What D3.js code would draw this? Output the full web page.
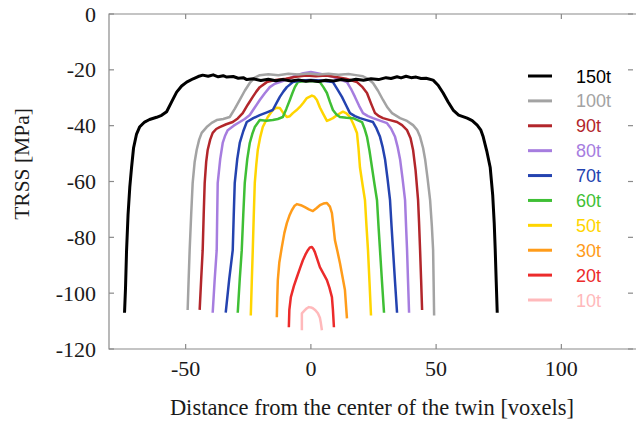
<!DOCTYPE html>
<html>
<head>
<meta charset="utf-8">
<script src="https://cdn.jsdelivr.net/npm/d3@7/dist/d3.min.js"></script>
<style>
  html, body { margin: 0; padding: 0; background: #fff; }
  svg { display: block; }
</style>
</head>
<body>
<svg id="chart" width="636" height="423"></svg>
<script>
// Resolved twin shear stress profiles, one per loading step: [distance (voxels), TRSS (MPa)]
const t150 = [[-74.4,-107],[-74.0,-98],[-73.6,-85],[-73.0,-72],[-72.3,-62],[-71.6,-55],[-70.8,-48],[-69.6,-43],[-68.4,-40.5],[-66.4,-38.7],[-64.4,-37.8],[-61.6,-37],[-59.6,-36.3],[-57.6,-35],[-55.6,-31.5],[-53.6,-28],[-51.6,-25.8],[-49.6,-24.4],[-47,-23.2],[-45,-22.4],[-43.2,-21.9],[-41,-22.3],[-39,-21.8],[-37,-22.5],[-35,-22.1],[-33.6,-22.6],[-31,-22.4],[-29,-23.0],[-27,-22.8],[-25.6,-23.5],[-23,-23.2],[-20,-23.8],[-17,-23.4],[-14,-23.9],[-11,-23.5],[-8,-24],[-5,-23.6],[-2,-24.1],[0,-23.8],[3,-24.2],[6,-23.7],[9,-24],[12,-23.5],[15,-23.9],[18,-23.4],[21,-23.7],[24,-23.2],[27,-23.5],[30,-22.8],[32,-23.1],[34.4,-22.5],[36,-22.9],[38,-22.3],[40,-22.8],[42,-22.6],[44,-23.1],[46,-23],[48.8,-23.7],[50.8,-25.5],[52.8,-28.3],[54.8,-31.5],[56.8,-34.4],[59,-36.2],[62.4,-37.3],[64.4,-38.2],[66.4,-39.8],[67.8,-41.5],[68.8,-44],[70.2,-49],[71.6,-55],[72.6,-65],[73.2,-75],[73.6,-84.6],[74,-96],[74.4,-107]];
const t100 = [[-49.2,-106],[-48.8,-95],[-48.4,-84.6],[-47.8,-72],[-47.2,-60.6],[-46.4,-53],[-45.6,-48.7],[-44.6,-45],[-43.6,-42.6],[-41.6,-40.5],[-39.6,-39],[-37.6,-38],[-35,-37.6],[-32.4,-36.9],[-30.4,-34],[-28.4,-30.8],[-26.4,-27.5],[-24.4,-24.7],[-22.4,-22.8],[-20.4,-21.9],[-17,-21.6],[-13,-21.9],[-9,-21.4],[-5,-21.7],[-1,-21.3],[3,-21.7],[7,-21.4],[11,-21.8],[15,-21.5],[18,-21.9],[20.8,-22.3],[22.8,-23.2],[24.8,-24.7],[26.8,-27.5],[28.8,-30.8],[30.6,-33.5],[32.4,-35.5],[35.6,-37.3],[38.4,-38.3],[40.8,-39.8],[42.4,-41.5],[43.6,-44],[44.8,-48],[45.6,-52],[46.6,-59],[47.6,-66.7],[48.3,-76],[48.8,-84.6],[49,-96],[49.2,-108]];
const t90 = [[-44.4,-106],[-43.8,-95],[-43.2,-84.6],[-42.8,-72],[-42.4,-60.6],[-41.8,-53],[-41.2,-48.7],[-40.2,-45],[-39.2,-42.6],[-37.8,-41.2],[-36.4,-40.5],[-33.8,-39.5],[-31.2,-38.7],[-29.2,-37.4],[-27.2,-35.5],[-25.2,-32.5],[-23.2,-29.7],[-21.8,-27.8],[-20.4,-26.2],[-17.6,-24.4],[-14,-23.6],[-10,-23.2],[-6,-22.5],[-2,-22],[2,-22.3],[6,-22],[10,-22.6],[14,-23.2],[16.4,-23.8],[18.4,-24.4],[20.4,-26],[22.4,-28.3],[24,-32],[25.6,-35.5],[27.2,-36.6],[28.8,-37.3],[31.6,-38],[34.4,-38.7],[36.4,-39.8],[38.4,-41.6],[39.8,-44.5],[40.8,-48.7],[41.8,-56],[42.8,-66.7],[43.2,-75],[43.6,-84.6],[44,-95],[44.4,-106]];
const t80 = [[-39.2,-107],[-38.4,-95],[-37.6,-84.6],[-37.4,-72],[-37.2,-60.6],[-36.2,-52],[-35.2,-46.2],[-34.2,-43.5],[-33.2,-41.6],[-30.8,-40],[-28.4,-38.7],[-26.4,-37.6],[-24.4,-36.2],[-22.4,-33.5],[-20.4,-30.8],[-18.4,-28.4],[-16.4,-26.2],[-14.4,-25],[-12.4,-24.4],[-9,-23.3],[-6,-22],[-3,-21.2],[0,-20.8],[3,-21.3],[6,-21.8],[9,-22.6],[12,-23.6],[14.4,-24.4],[16,-26.8],[17.6,-29.7],[19.2,-32.8],[20.8,-35.5],[22.8,-36.6],[24.8,-37.3],[27.6,-38.2],[30.4,-39.1],[32,-41],[33.6,-44],[34.6,-47.5],[35.6,-52],[36.6,-59],[37.6,-66.7],[38,-76],[38.4,-84.6],[38.8,-96],[39.2,-107]];
const t70 = [[-34,-107],[-32.6,-95],[-31.2,-84.6],[-30.8,-72],[-30.4,-60.6],[-29.4,-52],[-28.4,-46.2],[-27,-42],[-25.6,-38.7],[-23,-37.3],[-20.4,-36.2],[-17.8,-35.3],[-15.2,-34.4],[-13.8,-32],[-12.4,-29.7],[-11,-27.8],[-9.6,-26.2],[-7.2,-24.4],[-4,-23.8],[0,-23.6],[4,-23.8],[7,-24.2],[8.8,-24.4],[10.6,-27],[12.4,-29.7],[14,-32.6],[15.6,-35.5],[17.6,-36.6],[19.6,-37.3],[22.2,-38],[24.8,-38.7],[26.2,-41],[27.6,-44],[28.6,-47.5],[29.6,-52],[30.6,-59],[31.6,-66.7],[32.2,-76],[32.8,-84.6],[33.6,-96],[34.4,-107]];
const t60 = [[-29.2,-107],[-28.4,-95],[-27.6,-84.6],[-27,-72],[-26.4,-60.6],[-25.4,-52],[-24.4,-46.2],[-23.4,-43],[-22.4,-40.5],[-20.4,-38],[-17.8,-38.2],[-15.2,-38],[-13.2,-37.6],[-11.2,-36.9],[-9.8,-34],[-8.4,-30.8],[-7.4,-28.4],[-6.4,-26.2],[-5.2,-24.4],[-2,-24],[1,-24.1],[3.6,-24.4],[5,-26.2],[6.4,-28.3],[7.6,-31.5],[8.8,-34.4],[10.2,-36],[11.6,-36.9],[14.2,-37.2],[16.8,-37.3],[18.6,-38],[20.4,-38.7],[21.4,-41],[22.4,-44],[23.4,-49],[24.4,-55],[25.4,-61],[26.4,-66.7],[27,-76],[27.6,-84.6],[28.4,-96],[29.2,-107]];
const t50 = [[-24,-108],[-23.6,-96],[-23.2,-84.6],[-22.8,-72],[-22.4,-60.6],[-21.8,-54],[-21.2,-48.7],[-20.2,-44],[-19.2,-40.5],[-17.2,-36.9],[-15.2,-34.4],[-13.8,-33.6],[-12.4,-33.7],[-11,-35.5],[-9.6,-36.9],[-8.4,-36.6],[-7.2,-35.5],[-5.8,-34.5],[-4.4,-33.3],[-3,-31.8],[-1.6,-30.1],[0.4,-29.2],[1.4,-29.6],[2.4,-30.8],[3.6,-33.5],[4.8,-35.6],[6.4,-38.3],[7.6,-37.8],[8.8,-37.3],[10.8,-36],[12.8,-35],[14.2,-35.6],[15.6,-36.9],[17,-39.5],[18.4,-42.6],[19,-48],[19.6,-55],[20.6,-61],[21.6,-66.7],[22.2,-76],[22.8,-84.6],[23.4,-96],[24,-108]];
const t30 = [[-13.6,-108.6],[-13.4,-101],[-13.2,-95.3],[-12.6,-89],[-11.6,-83.5],[-10.6,-78.5],[-9.6,-74.9],[-8.6,-72.3],[-7.6,-70.3],[-6.6,-68.8],[-5.6,-68.1],[-4,-68.5],[-2.4,-69.2],[-0.8,-70],[0.8,-70.6],[2.2,-69.6],[3.6,-68.5],[5,-67.9],[6.4,-67.7],[7.6,-69],[8.4,-71.3],[9,-76],[9.6,-81],[10.6,-85],[11.6,-89.2],[12.6,-94],[13.6,-98.9],[14,-104],[14.4,-109]];
const t20 = [[-8.8,-112.2],[-8.6,-106],[-8,-101.4],[-6.8,-97.5],[-5.6,-94.3],[-4.4,-91.2],[-3.2,-88.2],[-2.2,-86.2],[-1.2,-84.6],[-0.4,-83.6],[0.4,-83.5],[1,-84.2],[1.6,-85.3],[2.6,-88],[3.6,-90.7],[5,-93],[6.4,-95.3],[7.4,-98],[8.4,-101.4],[8.8,-106],[9.2,-112.2]];
const t10 = [[-3.6,-113.3],[-3.6,-110],[-3.6,-107.2],[-2.4,-106.1],[-1.6,-105.4],[-0.8,-105],[0,-105.1],[0.8,-105.4],[1.8,-106.1],[2.8,-107.2],[3.6,-108.8],[4,-110.8],[4.4,-113.3]];

// Legend order and labels
const seriesNames = ["150t", "100t", "90t", "80t", "70t", "60t", "50t", "30t", "20t", "10t"];
const seriesData  = [t150, t100, t90, t80, t70, t60, t50, t30, t20, t10];

// Axis ticks
const xTicks = [-50, 0, 50, 100];
const yTicks = [0, -20, -40, -60, -80, -100, -120];

// Styling
const colors = {
  "150t": "#000000", "100t": "#a3a3a3", "90t": "#b2262b", "80t": "#a67ddf",
  "70t": "#2443b0", "60t": "#3fbf35", "50t": "#ffd500", "30t": "#ff9c1a",
  "20t": "#ec2b2b", "10t": "#ffb9bb"
};

(function draw() {
  const svg = d3.select("#chart");
  const plotL = 109, plotR = 637, plotT = 14, plotB = 349;

  const x = d3.scaleLinear().domain([-80.6, 130.2]).range([plotL, plotR]);
  const y = d3.scaleLinear().domain([-120, 0]).range([plotB, plotT]);

  // Plot frame (left, top, bottom; right side runs off the canvas)
  const frame = svg.append("g").attr("stroke", "#8a8a8a").attr("stroke-width", 1.2).attr("fill", "none");
  frame.append("path").attr("d", `M${plotR},${plotT}H${plotL}V${plotB}H${plotR}`);

  // Inward ticks
  const tickLen = 5;
  xTicks.forEach(v => {
    frame.append("line").attr("x1", x(v)).attr("x2", x(v)).attr("y1", plotB).attr("y2", plotB - tickLen);
    frame.append("line").attr("x1", x(v)).attr("x2", x(v)).attr("y1", plotT).attr("y2", plotT + tickLen);
  });
  yTicks.forEach(v => {
    frame.append("line").attr("x1", plotL).attr("x2", plotL + tickLen).attr("y1", y(v)).attr("y2", y(v));
    frame.append("line").attr("x1", 633 - tickLen).attr("x2", 633).attr("y1", y(v)).attr("y2", y(v));
  });

  // Tick labels
  const serif = "'Liberation Serif', 'Times New Roman', serif";
  svg.append("g").selectAll("text").data(yTicks).join("text")
    .attr("x", 96).attr("y", d => y(d) + 7.5)
    .attr("text-anchor", "end")
    .attr("font-family", serif).attr("font-size", 22).attr("fill", "#1a1a1a")
    .text(d => d);
  svg.append("g").selectAll("text").data(xTicks).join("text")
    .attr("x", d => x(d)).attr("y", 376)
    .attr("text-anchor", "middle")
    .attr("font-family", serif).attr("font-size", 22).attr("fill", "#1a1a1a")
    .text(d => d);

  // Axis titles
  svg.append("text")
    .attr("x", 372).attr("y", 415)
    .attr("text-anchor", "middle")
    .attr("font-family", serif).attr("font-size", 22.5).attr("fill", "#1a1a1a")
    .text("Distance from the center of the twin [voxels]");
  svg.append("text")
    .attr("transform", "translate(29,164) rotate(-90)")
    .attr("text-anchor", "middle")
    .attr("font-family", serif).attr("font-size", 21.5).attr("fill", "#1a1a1a")
    .text("TRSS [MPa]");

  // Profiles, drawn from the smallest load up so the 150t line sits on top
  const line = d3.line().x(d => x(d[0])).y(d => y(d[1]));
  const order = d3.range(seriesNames.length).reverse();
  svg.append("g").selectAll("path").data(order).join("path")
    .attr("d", i => line(seriesData[i]))
    .attr("fill", "none")
    .attr("stroke", i => colors[seriesNames[i]])
    .attr("stroke-width", i => seriesNames[i] === "150t" ? 3 : 2.5)
    .attr("stroke-linejoin", "round");

  // Legend
  const legend = svg.append("g");
  const legendY = d3.scalePoint().domain(seriesNames).range([76, 300]);
  seriesNames.forEach(name => {
    legend.append("line")
      .attr("x1", 528).attr("x2", 552)
      .attr("y1", legendY(name)).attr("y2", legendY(name))
      .attr("stroke", colors[name]).attr("stroke-width", 3);
    legend.append("text")
      .attr("x", 576).attr("y", legendY(name) + 6.5)
      .attr("font-family", "'Liberation Sans', Arial, sans-serif").attr("font-size", 18)
      .attr("fill", colors[name])
      .text(name);
  });
})();
</script>
</body>
</html>
